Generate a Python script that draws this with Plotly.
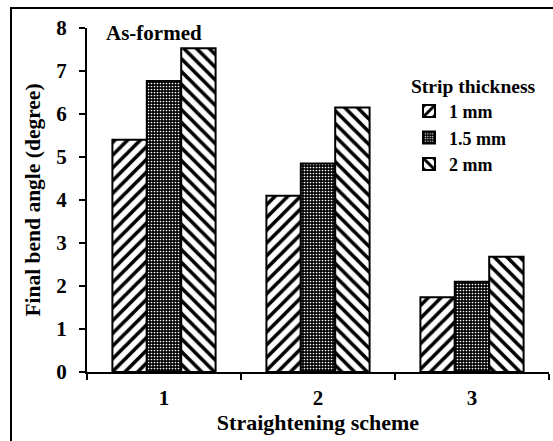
import plotly.graph_objects as go

# Straightening schemes on the x axis
schemes = ["1", "2", "3"]

# Final bend angle (degree) for each strip thickness
angle_1mm = [5.40, 4.10, 1.74]
angle_15mm = [6.77, 4.85, 2.10]
angle_2mm = [7.53, 6.15, 2.68]

series_names = ["1 mm", "1.5 mm", "2 mm"]

FONT = "Liberation Serif"


def bold(size):
    return dict(family=FONT, size=size, weight="bold", color="black")


fig = go.Figure()

patterns = [
    dict(shape="/", fgcolor="black", bgcolor="white", size=9, solidity=0.4, fillmode="replace"),
    dict(shape=".", fgcolor="white", bgcolor="black", size=3, solidity=0.25, fillmode="replace"),
    dict(shape="\\", fgcolor="black", bgcolor="white", size=9, solidity=0.4, fillmode="replace"),
]

for i, (name, vals) in enumerate(zip(series_names, [angle_1mm, angle_15mm, angle_2mm])):
    fig.add_trace(go.Bar(
        x=schemes, y=vals, name=name,
        legendgroup=name,
        marker=dict(color="white", pattern=patterns[i],
                    line=dict(color="black", width=2)),
    ))

fig.update_layout(
    width=553, height=441,
    margin=dict(l=87, r=4, t=28, b=69),
    plot_bgcolor="white", paper_bgcolor="white",
    barmode="group", bargap=0.33, bargroupgap=0,
    font=bold(20),
    showlegend=True,
    legend=dict(
        x=0.697, y=0.885, xanchor="left", yanchor="top",
        bgcolor="rgba(0,0,0,0)",
        font=bold(18),
        title=dict(text="Strip thickness", font=bold(19.5)),
        tracegroupgap=0, itemwidth=30,
    ),
    xaxis=dict(
        showline=True, linecolor="black", linewidth=2,
        ticks="outside", ticklen=6, tickwidth=2, tickcolor="black",
        tickson="boundaries",
        tickfont=bold(21),
        ticklabelstandoff=6,
        title=dict(text="Straightening scheme", standoff=4, font=bold(22)),
        showgrid=False, zeroline=False,
    ),
    yaxis=dict(
        range=[0, 8], dtick=1,
        showline=True, linecolor="black", linewidth=2,
        ticks="outside", ticklen=6, tickwidth=2, tickcolor="black",
        tickfont=bold(21),
        ticklabelstandoff=8,
        title=dict(text="Final bend angle (degree)", standoff=10, font=bold(21.5)),
        showgrid=False, zeroline=False,
    ),
    annotations=[dict(
        text="As-formed", xref="paper", yref="paper",
        x=(104 - 87) / 462, y=1.025, xanchor="left", yanchor="top",
        showarrow=False, font=bold(21),
    )],
    shapes=[dict(
        type="rect", xref="paper", yref="paper",
        x0=(11 - 87) / 462, x1=(560 - 87) / 462,
        y0=(372 - 450) / 343, y1=(372 - 9) / 343,
        line=dict(color="black", width=2), fillcolor="rgba(0,0,0,0)",
        layer="below",
    )],
)

fig.write_html("out.html")
